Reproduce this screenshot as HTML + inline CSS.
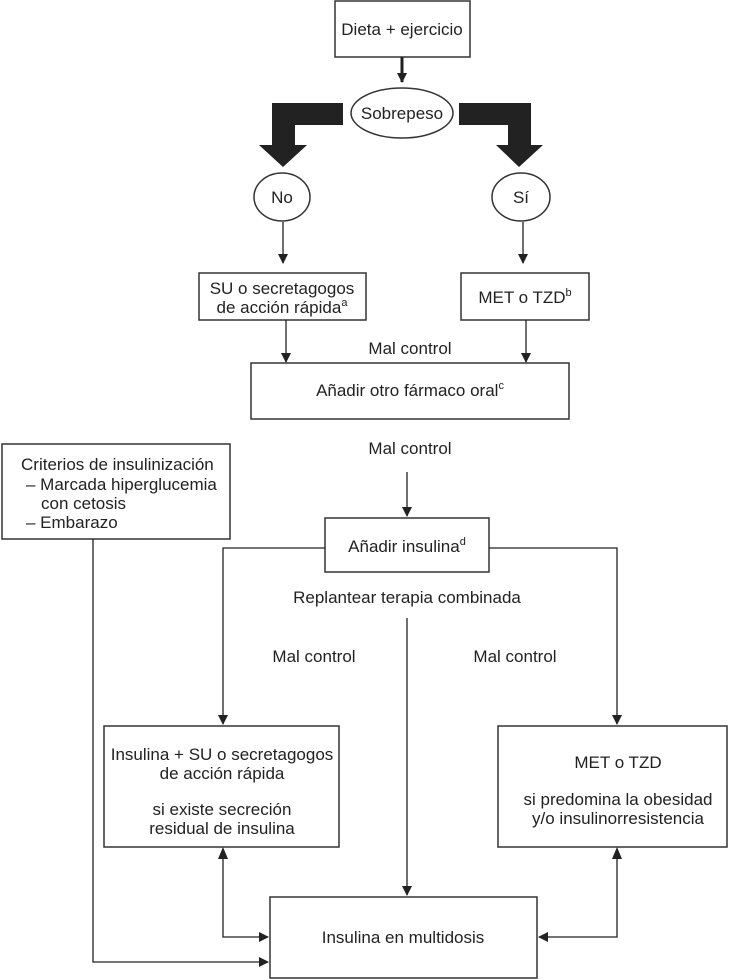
<!DOCTYPE html>
<html><head><meta charset="utf-8"><style>
html,body{margin:0;padding:0;background:#fff}
svg{display:block}
text{font-family:"Liberation Sans Narrow","Liberation Sans",sans-serif;font-size:17px;fill:#222}
</style></head><body>
<svg width="730" height="980" viewBox="0 0 730 980" xmlns="http://www.w3.org/2000/svg">
<defs><marker id="a" markerWidth="10" markerHeight="10" refX="9" refY="5" orient="auto" markerUnits="userSpaceOnUse"><path d="M0,0 L10,5 L0,10 z" fill="#222"/></marker></defs>
<g fill="none" stroke="#333" stroke-width="1.5">
<rect x="335" y="1" width="135" height="56"/>
<ellipse cx="402" cy="113" rx="51" ry="25"/>
<ellipse cx="282" cy="197" rx="28" ry="24"/>
<ellipse cx="521" cy="197" rx="29" ry="24"/>
<rect x="199" y="273" width="167" height="47"/>
<rect x="461" y="273" width="128" height="47"/>
<rect x="251" y="363" width="318" height="56"/>
<rect x="2" y="444" width="228" height="95"/>
<rect x="325" y="518" width="164" height="54"/>
<rect x="104" y="726" width="235" height="121"/>
<rect x="498" y="726" width="229" height="121"/>
<rect x="270" y="897" width="267" height="81"/>
</g>
<g stroke="#222" stroke-width="1.3" fill="none" marker-end="url(#a)">
<line x1="402" y1="57" x2="402" y2="82" stroke-width="3"/>
<line x1="283" y1="222" x2="283" y2="263"/>
<line x1="523" y1="222" x2="523" y2="263"/>
<line x1="286" y1="320" x2="286" y2="362"/>
<line x1="526" y1="320" x2="526" y2="362"/>
<line x1="407" y1="472" x2="407" y2="516"/>
<polyline points="325,548 223,548 223,724"/>
<polyline points="489,548 617,548 617,724"/>
<line x1="407" y1="618" x2="407" y2="895"/>
<polyline points="223,849 223,937 268,937"/>
<polyline points="617,849 617,937 539,937"/>
<polyline points="93,539 93,962 268,962"/>
</g>
<g fill="#222">
<path d="M223,847 l-5,12 l10,0 z"/>
<path d="M617,847 l-5,12 l10,0 z"/>
<path d="M343,103 L272,103 L272,145 L259,145 L283,167 L307,145 L295,145 L295,125 L343,125 z"/>
<path d="M459,103 L531,103 L531,145 L543,145 L519,167 L496,145 L508,145 L508,125 L459,125 z"/>
</g>
<g text-anchor="middle">
<text x="402" y="35">Dieta + ejercicio</text>
<text x="402" y="119">Sobrepeso</text>
<text x="282" y="203">No</text>
<text x="521" y="203">Sí</text>
<text x="282" y="294">SU o secretagogos</text>
<text x="282" y="313">de acción rápida<tspan font-size="11" dy="-7">a</tspan></text>
<text x="525" y="303">MET o TZD<tspan font-size="11" dy="-7">b</tspan></text>
<text x="410" y="354">Mal control</text>
<text x="410" y="396">Añadir otro fármaco oral<tspan font-size="11" dy="-7">c</tspan></text>
<text x="410" y="454">Mal control</text>
<text x="407" y="552">Añadir insulina<tspan font-size="11" dy="-7">d</tspan></text>
<text x="407" y="603">Replantear terapia combinada</text>
<text x="314" y="662">Mal control</text>
<text x="515" y="662">Mal control</text>
<text x="222" y="760">Insulina + SU o secretagogos</text>
<text x="222" y="779">de acción rápida</text>
<text x="222" y="815">si existe secreción</text>
<text x="222" y="834">residual de insulina</text>
<text x="618" y="768">MET o TZD</text>
<text x="618" y="805">si predomina la obesidad</text>
<text x="618" y="824">y/o insulinorresistencia</text>
<text x="403" y="943">Insulina en multidosis</text>
</g>
<g>
<text x="21" y="470">Criterios de insulinización</text>
<text x="26" y="490">– Marcada hiperglucemia</text>
<text x="41" y="509">con cetosis</text>
<text x="26" y="528">– Embarazo</text>
</g>
</svg>
</body></html>
